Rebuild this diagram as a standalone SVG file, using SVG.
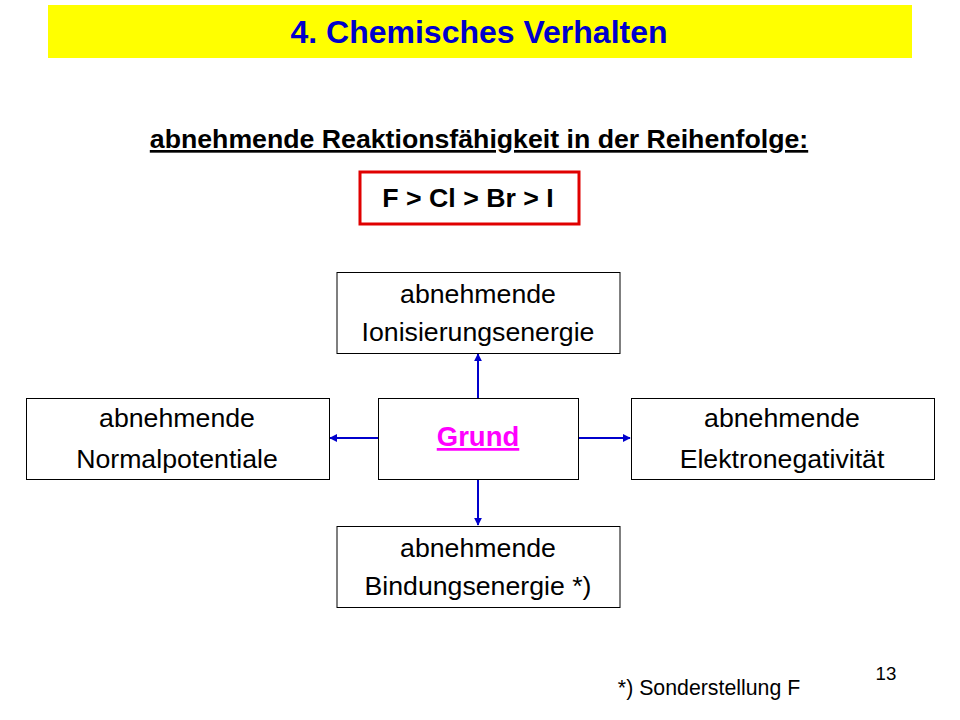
<svg xmlns="http://www.w3.org/2000/svg" width="960" height="720" viewBox="0 0 960 720">
<style>
text{font-family:"Liberation Sans",Arial,sans-serif;text-anchor:middle}
.box{fill:#fff;stroke:#000;stroke-width:1}
.lbl{font-size:26.7px;fill:#000}
.con{stroke:#0000cc;stroke-width:2;fill:none;marker-end:url(#ah)}
</style>
<defs>
<marker id="ah" viewBox="0 0 10 10" refX="9" refY="5" markerWidth="4" markerHeight="4" orient="auto" markerUnits="strokeWidth">
<path d="M0,0 L10,5 L0,10 z" fill="#0000cc"/>
</marker>
</defs>
<rect width="960" height="720" fill="#fff"/>
<g id="title">
<rect x="48" y="5" width="864" height="53" fill="#ffff00"/>
<text x="479" y="43" font-size="32" font-weight="bold" fill="#0000cc">4. Chemisches Verhalten</text>
</g>
<g id="subtitle">
<text x="479" y="148" font-size="26.7" font-weight="bold" text-decoration="underline">abnehmende Reaktionsfähigkeit in der Reihenfolge:</text>
</g>
<g id="order">
<rect x="360" y="172" width="219" height="52" fill="#fff" stroke="#e00000" stroke-width="3"/>
<text x="468" y="207" font-size="26.7" font-weight="bold">F &gt; Cl &gt; Br &gt; I</text>
</g>
<g id="connectors">
<line class="con" x1="478" y1="398" x2="478" y2="354"/>
<line class="con" x1="378" y1="438" x2="330" y2="438"/>
<line class="con" x1="578" y1="438" x2="630" y2="438"/>
<line class="con" x1="478" y1="479" x2="478" y2="525"/>
</g>
<g id="ionisierung">
<rect class="box" x="337" y="272.5" width="283" height="81"/>
<text class="lbl" x="478" y="303">abnehmende</text>
<text class="lbl" x="478" y="341">Ionisierungsenergie</text>
</g>
<g id="normalpotentiale">
<rect class="box" x="26.5" y="398.5" width="303" height="81"/>
<text class="lbl" x="177" y="427">abnehmende</text>
<text class="lbl" x="177" y="468">Normalpotentiale</text>
</g>
<g id="grund">
<rect class="box" x="378.5" y="398.5" width="200" height="81"/>
<text x="478" y="446" font-size="27.5" font-weight="bold" fill="#ff00ff" text-decoration="underline">Grund</text>
</g>
<g id="elektronegativitaet">
<rect class="box" x="631.5" y="398.5" width="303" height="81"/>
<text class="lbl" x="782" y="427">abnehmende</text>
<text class="lbl" x="782" y="468">Elektronegativität</text>
</g>
<g id="bindung">
<rect class="box" x="337" y="526.5" width="283" height="81"/>
<text class="lbl" x="478" y="557">abnehmende</text>
<text class="lbl" x="478" y="595">Bindungsenergie *)</text>
</g>
<text x="709" y="695" font-size="21.3">*) Sonderstellung F</text>
<text x="886" y="680" font-size="18.7">13</text>
</svg>
